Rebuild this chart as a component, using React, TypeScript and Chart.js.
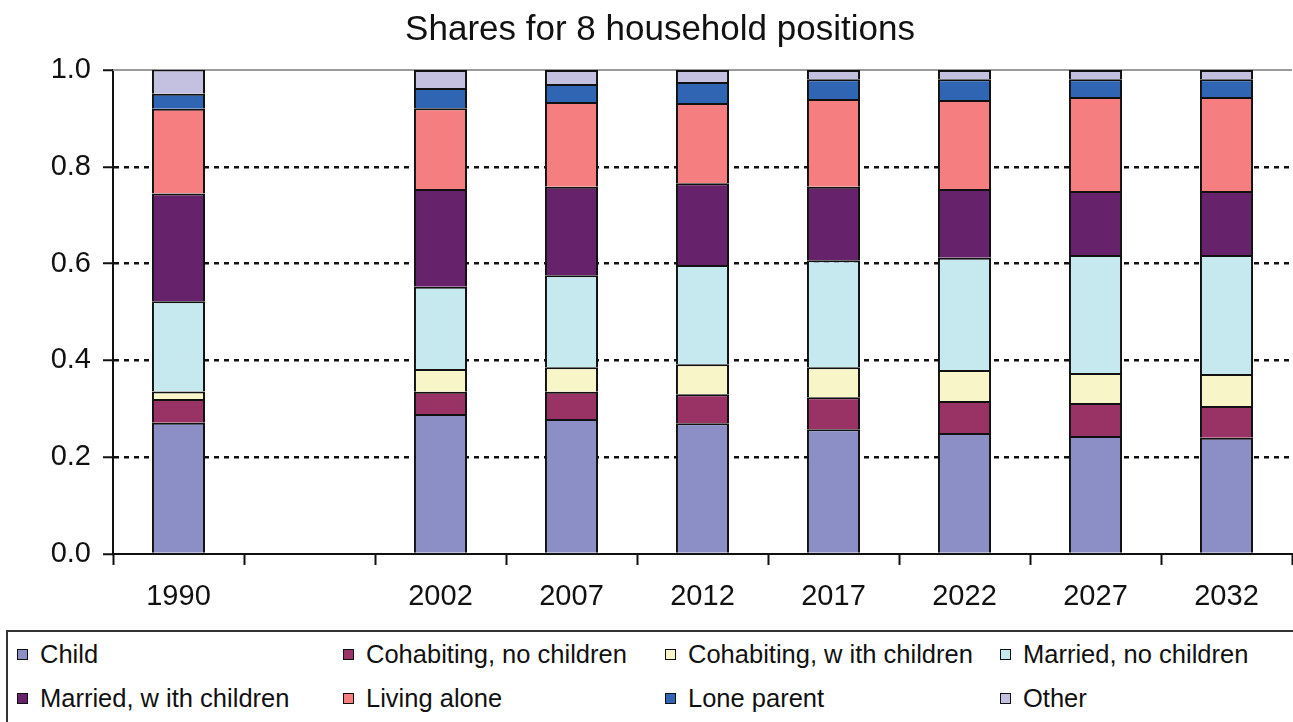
import React, { useEffect, useRef } from "react";
import { Chart, registerables } from "chart.js";

Chart.register(...registerables);

const categories = ["1990", "", "2002", "2007", "2012", "2017", "2022", "2027", "2032"];

const child = [0.271, null, 0.289, 0.279, 0.270, 0.258, 0.250, 0.244, 0.240];
const cohabNoChildren = [0.049, null, 0.046, 0.056, 0.060, 0.066, 0.066, 0.068, 0.066];
const cohabWithChildren = [0.016, null, 0.047, 0.051, 0.062, 0.062, 0.064, 0.062, 0.066];
const marriedNoChildren = [0.186, null, 0.170, 0.190, 0.205, 0.221, 0.232, 0.244, 0.246];
const marriedWithChildren = [0.223, null, 0.202, 0.183, 0.169, 0.152, 0.142, 0.132, 0.132];
const livingAlone = [0.175, null, 0.167, 0.175, 0.166, 0.181, 0.184, 0.194, 0.194];
const loneParent = [0.031, null, 0.042, 0.037, 0.043, 0.041, 0.043, 0.037, 0.037];
const other = [0.050, null, 0.037, 0.029, 0.025, 0.019, 0.019, 0.019, 0.019];

const seriesNames = [
  "Child",
  "Cohabiting, no children",
  "Cohabiting, w ith children",
  "Married, no children",
  "Married, w ith children",
  "Living alone",
  "Lone parent",
  "Other",
];
const seriesValues = [
  child,
  cohabNoChildren,
  cohabWithChildren,
  marriedNoChildren,
  marriedWithChildren,
  livingAlone,
  loneParent,
  other,
];
const seriesColors = [
  "#8b8fc6",
  "#993366",
  "#f8f6c8",
  "#c6e8ef",
  "#66226a",
  "#f47e80",
  "#3065b4",
  "#c4c0e0",
];

const yTicks = [0, 0.2, 0.4, 0.6, 0.8, 1.0];

const FONT = "'Liberation Sans', Arial, sans-serif";

const legendColumnsX = [17, 343, 665, 1000];
const legendRowsY = [654, 698];

const topLinePlugin = {
  id: "topLine",
  beforeDatasetsDraw(chart: any) {
    const { ctx, chartArea } = chart;
    ctx.save();
    ctx.strokeStyle = "#9a9a9a";
    ctx.lineWidth = 2;
    ctx.beginPath();
    ctx.moveTo(chartArea.left, chartArea.top);
    ctx.lineTo(chartArea.right, chartArea.top);
    ctx.stroke();
    ctx.restore();
  },
};

export default function App() {
  const canvasRef = useRef<HTMLCanvasElement | null>(null);

  useEffect(() => {
    if (!canvasRef.current) return;
    const chart = new Chart(canvasRef.current, {
      type: "bar",
      data: {
        labels: categories,
        datasets: seriesNames.map((name, i) => ({
          label: name,
          data: seriesValues[i],
          backgroundColor: seriesColors[i],
          borderColor: "#111111",
          borderWidth: 2,
          barPercentage: 0.405,
          categoryPercentage: 1,
        })),
      },
      options: {
        responsive: false,
        animation: false,
        layout: { padding: { left: 28, right: 1, top: 0, bottom: 0 } },
        plugins: {
          legend: { display: false },
          tooltip: { enabled: false },
          title: {
            display: true,
            text: "Shares for 8 household positions",
            color: "#111111",
            font: { family: FONT, size: 35, weight: "normal" },
            padding: { top: 9, bottom: 19 },
          },
        },
        scales: {
          x: {
            stacked: true,
            grid: {
              display: true,
              offset: true,
              drawOnChartArea: false,
              drawTicks: true,
              tickLength: 11,
              tickColor: "#111111",
              tickWidth: 2,
            },
            border: { display: true, color: "#111111", width: 2 },
            ticks: {
              color: "#111111",
              font: { family: FONT, size: 29 },
              padding: 15,
              maxRotation: 0,
              autoSkip: false,
            },
            afterFit(scale: any) {
              scale.height = 71;
            },
          },
          y: {
            stacked: true,
            min: 0,
            max: 1,
            afterBuildTicks(scale: any) {
              scale.ticks = yTicks.map((v) => ({ value: v }));
            },
            grid: {
              display: true,
              drawOnChartArea: true,
              drawTicks: true,
              tickLength: 10,
              tickColor: "#111111",
              tickWidth: 2,
              lineWidth: 2.5,
              color: (ctx: any) =>
                ctx.tick && (ctx.tick.value === 1 || ctx.tick.value === 0) ? "rgba(0,0,0,0)" : "#111111",
            },
            border: { display: true, color: "#111111", width: 2, dash: [5, 5] },
            ticks: {
              color: "#111111",
              font: { family: FONT, size: 29 },
              padding: 12,
              callback: (v: any) => Number(v).toFixed(1),
            },
            afterFit(scale: any) {
              scale.width = 85;
            },
          },
        },
      },
      plugins: [topLinePlugin],
    });
    return () => chart.destroy();
  }, []);

  return (
    <div
      style={{
        position: "fixed",
        left: 0,
        top: 0,
        width: 1293,
        height: 722,
        background: "#ffffff",
        overflow: "hidden",
        fontFamily: FONT,
      }}
    >
      <canvas ref={canvasRef} width={1293} height={625} style={{ display: "block" }} />
      <div
        style={{
          position: "absolute",
          left: 6,
          top: 630,
          width: 1300,
          height: 120,
          borderTop: "2px solid #333",
          borderLeft: "2px solid #333",
        }}
      />
      {seriesNames.map((name, i) => {
        const col = i % 4;
        const row = Math.floor(i / 4);
        const x = legendColumnsX[col];
        const y = legendRowsY[row];
        return (
          <div
            key={name}
            style={{
              position: "absolute",
              left: x,
              top: y - 16,
              height: 32,
              display: "flex",
              alignItems: "center",
              whiteSpace: "nowrap",
              fontSize: 25.5,
              color: "#111111",
            }}
          >
            <span
              style={{
                display: "inline-block",
                width: 9,
                height: 9,
                border: "1.5px solid #111",
                background: seriesColors[i],
                marginRight: 12,
              }}
            />
            <span>{name}</span>
          </div>
        );
      })}
    </div>
  );
}
